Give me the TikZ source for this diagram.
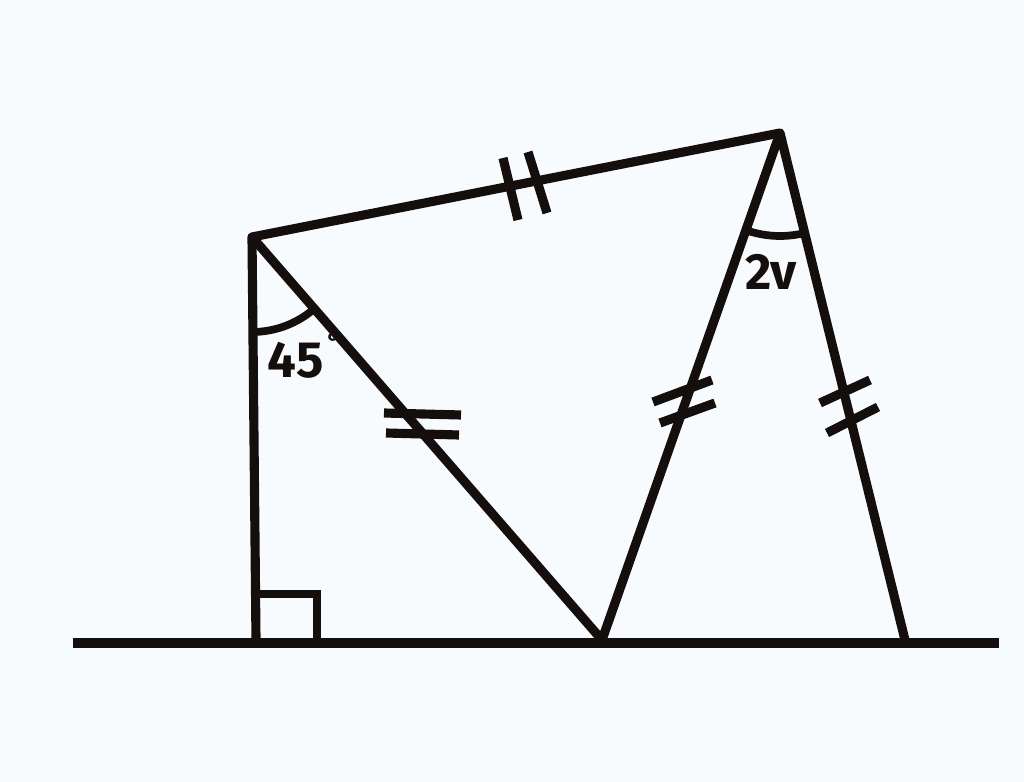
\documentclass[tikz,border=0pt]{standalone}
\usepackage{fontspec}
\setmainfont{Fira Sans}
\usetikzlibrary{positioning}
\definecolor{ink}{RGB}{20,15,12}
\definecolor{paper}{RGB}{248,251,253}
\tikzset{>=stealth}
\tikzset{
  side/.style={ink, line width=2.6pt, line join=round},
  ground/.style={ink, line width=3.1pt},
  tick/.style={ink, line width=2.6pt},
  angmark/.style={ink, line width=2.2pt},
  anglabel/.style={text=ink, font=\fontsize{14.5}{16}\selectfont\bfseries, inner sep=0pt}
}

\begin{document}
\begin{tikzpicture}
        \fill[paper] (0,0) rectangle (10.24,7.82);
        \useasboundingbox (0,0) rectangle (10.24,7.82);

        \coordinate (A) at (2.52,5.45);
        \coordinate (E) at (2.56,1.42);
        \coordinate (B) at (6.02,1.42);
        \coordinate (C) at (7.80,6.49);
        \coordinate (D) at (9.05,1.42);
        \coordinate (gl) at (0.73,1.39);
        \coordinate (gr) at (9.99,1.39);

        \node[anglabel, anchor=base west] (a45) at (2.67,4.04) {45\kern0.08em\raisebox{1.0ex}{\fontsize{7}{7}\selectfont°}};
        \node[anglabel] (a2v) at (7.71,5.10) {2v};

        \draw [side] (E)--(A)--(C)--(D);
        \draw [side] (A)--(B)--(C);
        \draw [ground] (gl)--(gr);

        \draw [angmark] (E) ++(0,0.46)--++(0.61,0)--++(0,-0.46);
        \draw [angmark] (A) ++(-90:0.95) arc[start angle=-90, end angle=-48.7, radius=0.95];
        \draw [angmark] (C) ++(250.5:1.03) arc[start angle=250.5, end angle=283.8, radius=1.03];

        \draw [tick] (5.03,6.24)--(5.18,5.62);
        \draw [tick] (5.28,6.30)--(5.47,5.69);
        \draw [tick] (3.84,3.69)--(4.61,3.67);
        \draw [tick] (3.86,3.49)--(4.59,3.47);
        \draw [tick] (6.53,3.80)--(7.12,4.02);
        \draw [tick] (6.60,3.59)--(7.15,3.79);
        \draw [tick] (8.20,3.79)--(8.70,4.02);
        \draw [tick] (8.27,3.49)--(8.78,3.75);
\end{tikzpicture}
\end{document}
